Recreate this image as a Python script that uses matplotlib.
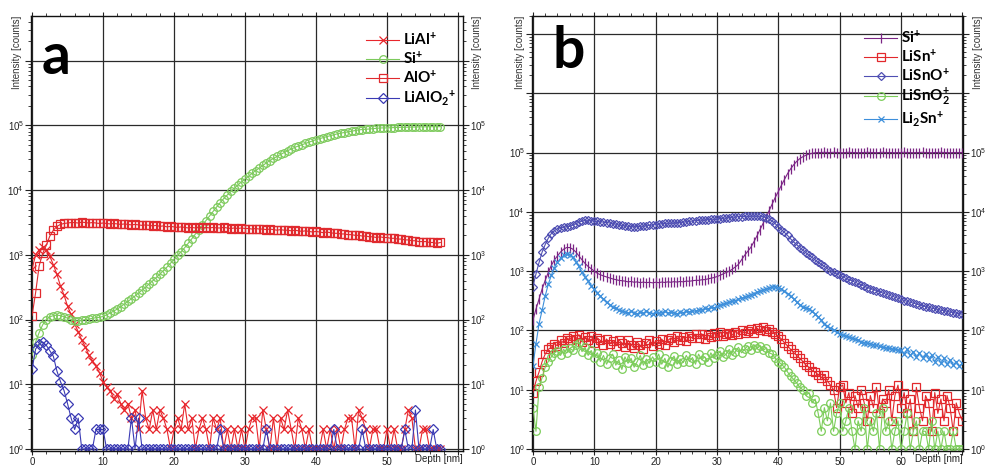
import numpy as np
import matplotlib
matplotlib.use("Agg")
import matplotlib.pyplot as plt
from matplotlib.ticker import FixedLocator, MultipleLocator, FuncFormatter, LogLocator, NullFormatter

plt.rcParams['font.family'] = ['Liberation Sans', 'DejaVu Sans']
plt.rcParams['mathtext.fontset'] = 'custom'
plt.rcParams['mathtext.rm'] = 'Lato:bold'
plt.rcParams['mathtext.bf'] = 'Lato:bold'
plt.rcParams['mathtext.it'] = 'Lato:bold:italic'

DEPTH_STEP = 0.5  # nm between data points

# ---------------- Panel a (counts, one value every 0.5 nm from 0 nm) ----------------
a_LiAl = [600, 1000, 1200, 1300, 1200, 950, 700, 500, 330, 240,
          160, 120, 85, 65, 48, 38, 28, 23, 19, 15,
          11, 9, 8, 6, 7, 5, 4, 5, 3, 4,
          2, 8, 3, 2, 4, 2, 4, 3, 2, 1,
          2, 3, 2, 5, 2, 3, 1, 2, 3, 2,
          1, 3, 2, 3, 1, 2, 1, 2, 1, 2,
          1, 2, 3, 3, 1, 4, 2, 1, 3, 1,
          3, 2, 4, 2, 1, 3, 2, 1, 2, 1,
          1, 1, 2, 1, 2, 1, 2, 1, 2, 3,
          3, 1, 4, 3, 2, 1, 2, 2, 1, 1,
          2, 1, 2, 1, 1, 2, 4, 3, 1, 1,
          2, 2, 1, 1, 1, 1]
a_Si = [28, 45, 63, 83, 100, 110, 115, 117, 115, 110,
        105, 100, 96, 95, 97, 100, 102, 104, 107, 108,
        112, 118, 126, 135, 145, 158, 174, 191, 209, 231,
        257, 285, 316, 355, 398, 447, 501, 570, 646, 741,
        851, 980, 1120, 1290, 1510, 1770, 2090, 2450, 2880, 3390,
        3980, 4680, 5500, 6400, 7410, 8400, 9550, 10700, 12000, 13400,
        14800, 16300, 18200, 20000, 21900, 24000, 26300, 28500, 30900, 33100,
        35500, 38000, 40700, 43000, 45700, 48000, 50100, 52500, 55000, 57500,
        60300, 62500, 64600, 67000, 69200, 71500, 74100, 76000, 77600, 79400,
        81300, 83200, 85100, 86300, 87100, 88000, 89100, 90000, 91200, 91500,
        91200, 92000, 92500, 93000, 93300, 93300, 93800, 94000, 94400, 94600,
        95000, 95000, 95500, 95500, 95500, 95500]
a_AlO = [115, 260, 680, 1050, 1400, 1950, 2400, 2750, 2950, 3050,
         3100, 3150, 3150, 3100, 3200, 3150, 3100, 3150, 3100, 3050,
         3100, 3050, 3000, 3050, 3000, 2950, 3000, 2950, 2900, 2950,
         2900, 2850, 2900, 2850, 2800, 2850, 2750, 2800, 2700, 2750,
         2700, 2650, 2700, 2650, 2600, 2650, 2600, 2650, 2600, 2650,
         2600, 2650, 2600, 2600, 2650, 2600, 2550, 2600, 2550, 2600,
         2550, 2550, 2500, 2550, 2500, 2500, 2450, 2500, 2450, 2400,
         2450, 2400, 2400, 2350, 2400, 2350, 2300, 2350, 2300, 2250,
         2300, 2250, 2200, 2250, 2200, 2150, 2150, 2100, 2100, 2050,
         2050, 2000, 2000, 1950, 1950, 1900, 1900, 1850, 1900, 1850,
         1850, 1800, 1800, 1750, 1750, 1700, 1700, 1650, 1650, 1600,
         1600, 1600, 1550, 1550, 1500, 1550]
a_LiAlO2 = [17, 35, 42, 45, 40, 33, 27, 16, 11, 8,
            5, 3, 2, 3, 1, 1, 1, 1, 2, 2,
            2, 1, 1, 1, 1, 1, 1, 1, 3, 1,
            3, 1, 1, 1, 1, 1, 1, 1, 1, 1,
            1, 1, 1, 1, 1, 1, 1, 1, 1, 1,
            1, 1, 1, 2, 1, 1, 1, 1, 1, 1,
            1, 1, 1, 1, 1, 1, 2, 1, 1, 1,
            1, 1, 1, 1, 1, 1, 1, 1, 1, 1,
            1, 1, 1, 1, 1, 2, 1, 1, 1, 1,
            1, 1, 1, 2, 1, 1, 1, 1, 1, 1,
            1, 1, 1, 1, 1, 2, 1, 1, 4, 1,
            1, 1, 1, 2, 1, 1]

# ---------------- Panel b (counts, one value every 0.5 nm from 0 nm) ----------------
b_Si = [150, 230, 340, 500, 700, 950, 1250, 1550, 1800, 2100,
        2350, 2500, 2500, 2350, 2100, 1800, 1550, 1350, 1200, 1100,
        1000, 920, 870, 830, 800, 770, 740, 720, 700, 690,
        680, 660, 670, 650, 660, 640, 655, 640, 650, 635,
        650, 640, 655, 645, 660, 650, 665, 655, 670, 660,
        680, 675, 690, 700, 700, 715, 720, 740, 760, 780,
        810, 850, 900, 950, 1000, 1080, 1180, 1300, 1550, 1850,
        2150, 2500, 3100, 3900, 5000, 6300, 8000, 10500, 13500, 17500,
        22000, 28000, 35000, 44000, 53000, 62000, 71000, 79000, 85000, 90000,
        94000, 97000, 99000, 100000, 100000, 101000, 100000, 100000, 101000, 100000,
        100000, 99000, 100000, 101000, 100000, 100000, 99000, 100000, 100000, 101000,
        100000, 100000, 99000, 100000, 101000, 100000, 100000, 100000, 99000, 100000,
        100000, 101000, 100000, 100000, 99000, 100000, 100000, 101000, 100000, 100000,
        99000, 100000, 100000, 101000, 100000, 100000, 99000, 100000, 100000, 100000,
        100000]
b_LiSn = [9, 14, 20, 30, 40, 48, 52, 60, 55, 68,
          62, 75, 70, 82, 72, 85, 65, 78, 70, 80,
          62, 75, 68, 58, 72, 60, 66, 55, 70, 62,
          52, 68, 58, 50, 64, 56, 48, 62, 70, 55,
          66, 60, 72, 58, 68, 75, 64, 80, 70, 78,
          66, 82, 74, 86, 76, 88, 72, 84, 78, 90,
          82, 95, 80, 88, 92, 84, 96, 88, 100, 90,
          98, 105, 92, 110, 100, 115, 98, 105, 95, 88,
          80, 72, 62, 55, 48, 42, 38, 34, 30, 26,
          24, 21, 20, 18, 16, 18, 14, 12, 10, 5,
          11, 12, 6, 9, 4, 8, 5, 10, 6, 3,
          8, 5, 11, 4, 7, 6, 10, 3, 8, 12,
          5, 9, 4, 7, 2, 11, 5, 3, 8, 6,
          2, 9, 4, 7, 3, 8, 5, 2, 6, 4,
          3]
b_LiSnO = [550, 900, 1400, 2100, 2800, 3600, 4300, 4800, 5200, 5400,
           5500, 5600, 5700, 6000, 6300, 6700, 7000, 7200, 7200, 7100,
           7000, 6900, 6800, 6700, 6600, 6500, 6300, 6200, 6000, 5900,
           5800, 5700, 5650, 5600, 5650, 5700, 5750, 5800, 5900, 6000,
           6100, 6200, 6300, 6400, 6400, 6500, 6500, 6600, 6600, 6700,
           6800, 6900, 7000, 7100, 7200, 7300, 7300, 7400, 7500, 7500,
           7600, 7700, 7800, 7900, 8000, 8100, 8200, 8300, 8300, 8400,
           8400, 8500, 8500, 8500, 8400, 8300, 8000, 7500, 7000, 6300,
           5600, 5000, 4500, 4000, 3500, 3100, 2800, 2500, 2250, 2050,
           1850, 1700, 1550, 1400, 1300, 1200, 1100, 1020, 950, 900,
           850, 800, 760, 720, 690, 650, 620, 590, 560, 530,
           510, 490, 470, 450, 430, 410, 395, 380, 365, 350,
           335, 320, 310, 300, 290, 280, 270, 260, 252, 245,
           238, 232, 226, 220, 215, 210, 205, 200, 196, 192,
           188]
b_LiSnO2 = [5, 2, 11, 16, 24, 30, 36, 42, 45, 38,
            48, 42, 50, 46, 58, 62, 44, 52, 38, 46,
            35, 42, 30, 38, 27, 34, 40, 26, 32, 22,
            36, 28, 34, 24, 30, 38, 26, 33, 28, 36,
            30, 40, 27, 34, 24, 31, 37, 27, 33, 29,
            38, 30, 35, 27, 40, 32, 36, 30, 42, 34,
            38, 45, 36, 40, 48, 38, 44, 52, 42, 48,
            55, 46, 58, 50, 54, 46, 50, 42, 40, 34,
            30, 27, 24, 20, 17, 15, 13, 11, 10, 8,
            9, 6, 7, 4, 2, 5, 3, 6, 2, 4,
            6, 2, 3, 5, 2, 1, 3, 2, 5, 1,
            3, 2, 4, 1, 5, 2, 3, 1, 2, 3,
            1, 2, 4, 1, 2, 3, 1, 2, 2, 1,
            3, 1, 2, 1, 2, 1, 1, 2, 1, 1,
            1]
b_Li2Sn = [25, 60, 130, 220, 380, 600, 850, 1150, 1400, 1650,
           1850, 1950, 1900, 1700, 1450, 1200, 950, 800, 680, 570,
           500, 430, 380, 340, 300, 270, 250, 235, 220, 210,
           205, 195, 210, 200, 190, 205, 195, 210, 200, 190,
           205, 195, 200, 210, 195, 205, 200, 190, 205, 200,
           210, 205, 215, 210, 225, 220, 235, 230, 245, 240,
           255, 265, 275, 285, 300, 310, 320, 335, 350, 360,
           380, 400, 420, 440, 460, 480, 500, 520, 540, 545,
           530, 500, 460, 420, 380, 340, 300, 270, 250, 240,
           230, 210, 190, 170, 150, 130, 117, 108, 100, 95,
           88, 84, 80, 77, 74, 71, 68, 65, 62, 61,
           60, 58, 56, 54, 52, 51, 50, 49, 48, 47,
           46, 40, 48, 38, 44, 36, 42, 35, 40, 33,
           38, 30, 36, 28, 34, 27, 32, 26, 30, 25,
           28]

series_a = [
    (a_LiAl, r'LiAl$^{+}$', '#e8262c', 'x', 6.0),
    (a_Si, r'Si$^{+}$', '#7dca5c', 'o', 5.5),
    (a_AlO, r'AlO$^{+}$', '#e02a2e', 's', 5.5),
    (a_LiAlO2, r'LiAlO$_{2}$$^{+}$', '#3a3ab4', 'D', 4.8),
]
series_b = [
    (b_Si, r'Si$^{+}$', '#7b2585', '|', 7.0),
    (b_LiSn, r'LiSn$^{+}$', '#e2282c', 's', 5.5),
    (b_LiSnO, r'LiSnO$^{+}$', '#4f4fb3', 'D', 3.8),
    (b_LiSnO2, r'LiSnO$_{2}^{+}$', '#7ccd5a', 'o', 5.5),
    (b_Li2Sn, r'Li$_{2}$Sn$^{+}$', '#3d8fdb', 'x', 5.0),
]

fig = plt.figure(figsize=(9.86, 4.68), dpi=100)
axA = fig.add_axes([31/986, 17/468, (463-31)/986, (452-17)/468])
axB = fig.add_axes([532/986, 17/468, (963-532)/986, (452-17)/468])


def yfmt(v, pos):
    e = int(round(np.log10(v)))
    if e > 5 or e < 0:
        return ''
    return r'$\mathdefault{10^{%d}}$' % e


def setup(ax, xmax, ymax, grid_x, label_x):
    ax.set_yscale('log')
    ax.set_xlim(-0.15, xmax)
    ax.set_ylim(0.93, ymax)
    ax.xaxis.set_major_locator(FixedLocator(grid_x))
    ax.xaxis.set_major_formatter(FuncFormatter(lambda v, p: ('%d' % v) if v in label_x else ''))
    ax.xaxis.set_minor_locator(MultipleLocator(2))
    ax.yaxis.set_major_locator(LogLocator(base=10, numticks=20))
    ax.yaxis.set_minor_locator(LogLocator(base=10, subs=np.arange(2, 10), numticks=20))
    ax.yaxis.set_major_formatter(FuncFormatter(yfmt))
    ax.yaxis.set_minor_formatter(NullFormatter())
    ax.grid(True, which='major', color='#2a2a2a', lw=0.9)
    ax.set_axisbelow(True)
    ax.tick_params(which='both', direction='out', top=True, right=True,
                   labelright=True, labelsize=7, colors='#222222', pad=1)
    ax.tick_params(which='major', length=4, width=0.8)
    ax.tick_params(which='minor', length=2.5, width=0.6)
    ax.tick_params(axis='x', which='major', length=3)
    for s in ax.spines.values():
        s.set_color('#111111')
        s.set_linewidth(1.0)
    ax.text(1.0, -0.008, 'Depth [nm]', transform=ax.transAxes, ha='right', va='top',
            fontsize=7, color='#222222')


def draw(ax, series, legend_anchor):
    handles = []
    for vals, lab, col, mk, ms in series:
        depth = np.arange(len(vals)) * DEPTH_STEP
        h, = ax.plot(depth, vals, color=col, lw=0.8, marker=mk, ms=ms, mfc='none',
                     mew=0.9, label=lab, clip_on=True)
        handles.append(h)
    leg = ax.legend(handles=handles, loc='upper left', bbox_to_anchor=legend_anchor,
                    frameon=False, borderpad=0, borderaxespad=0, handlelength=2.2,
                    handletextpad=0.25, labelspacing=0.12, numpoints=1,
                    prop={'family': 'Lato', 'weight': 'bold', 'size': 11})
    return leg


setup(axA, 60.7, 4.9e6, list(range(0, 61, 10)), [0, 10, 20, 30, 40, 50])
setup(axB, 70.1, 2.0e7, list(range(0, 71, 10)), [0, 10, 20, 30, 40, 50, 60])
draw(axA, series_a, (0.775, 0.965))
draw(axB, series_b, (0.77, 0.97))

axA.text(0.025, 0.867, 'a', transform=axA.transAxes, fontsize=41, fontweight='bold',
         family='Lato', va='baseline', ha='left')
axB.text(0.047, 0.881, 'b', transform=axB.transAxes, fontsize=41, fontweight='bold',
         family='Lato', va='baseline', ha='left')

for xpx in (17, 477, 520, 978):
    fig.text(xpx/986, (468-16)/468, 'Intensity [counts]', rotation=90, ha='center', va='top',
             fontsize=7, color='#333333')

fig.savefig('out.png', dpi=100, facecolor='white')
